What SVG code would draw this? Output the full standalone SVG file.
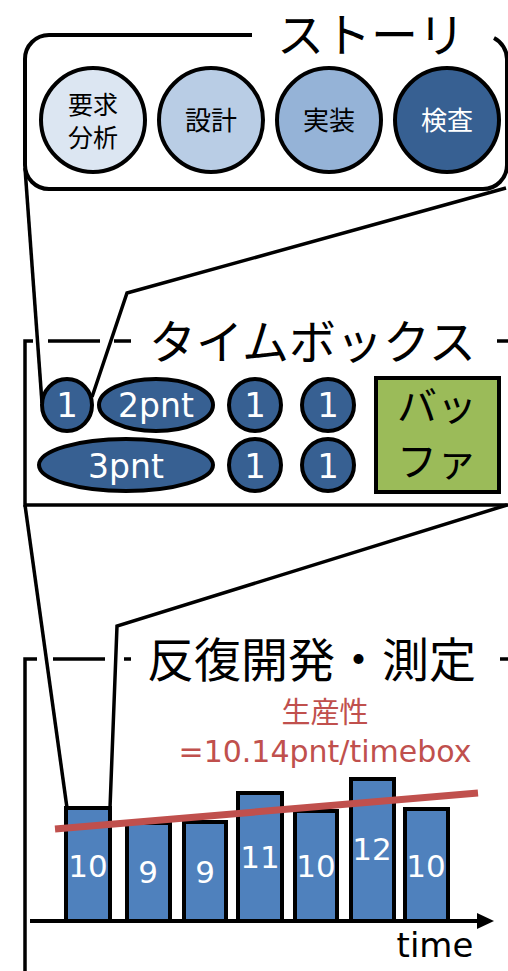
<svg xmlns="http://www.w3.org/2000/svg" width="508" height="971" viewBox="0 0 508 971">
<style>
.ln{fill:none;stroke:#000;stroke-width:3.5;stroke-linejoin:miter}
.sh{stroke:#000;stroke-width:4}
.tb{fill:#376092}
.bar{fill:#4f81bd;stroke:#000;stroke-width:4}
.jp{font-family:"Noto Sans CJK JP","DejaVu Sans",sans-serif}
.lat{font-family:"DejaVu Sans","Noto Sans CJK JP",sans-serif}
.title{font-size:47px;fill:#000}
.wt{fill:#fff;text-anchor:middle}
.bk{fill:#000;text-anchor:middle}
.red{fill:#c0504d;text-anchor:middle}
</style>
<rect width="508" height="971" fill="#fff"/>

<g id="story">
  <path d="M252,35 H49 A24,24 0 0 0 25,59 V165 A24,24 0 0 0 49,189 H483 A24,24 0 0 0 507,165 V59 A24,24 0 0 0 494,38" fill="#fff" class="sh"/>
  <text x="277" y="52" class="jp title">ストーリ</text>
</g>
<g id="req">
  <circle cx="93" cy="120" r="52" fill="#dce6f2" class="sh"/>
  <text x="93" y="114" class="jp bk" font-size="25">要求</text>
  <text x="93" y="147" class="jp bk" font-size="25">分析</text>
</g>
<g id="design">
  <circle cx="211" cy="120" r="52" fill="#b9cde5" class="sh"/>
  <text x="211" y="130" class="jp bk" font-size="26">設計</text>
</g>
<g id="impl">
  <circle cx="329" cy="120" r="52" fill="#95b3d7" class="sh"/>
  <text x="329" y="130" class="jp bk" font-size="26">実装</text>
</g>
<g id="test">
  <circle cx="447" cy="120" r="52" fill="#376092" class="sh"/>
  <text x="447" y="130" class="jp wt" font-size="26">検査</text>
</g>

<g id="timebox">
  <path class="ln" d="M33,341 H25 V505 H508"/>
  <path class="ln" d="M48,341 H100 M114,341 H131 M497,341 H508"/>
  <text x="149" y="359" class="jp title">タイムボックス</text>
</g>
<g id="tb1"><ellipse cx="67" cy="405" rx="25" ry="26" class="tb sh"/><text x="67" y="417" class="lat wt" font-size="34">1</text></g>
<g id="tb2pnt"><ellipse cx="156" cy="405" rx="57" ry="26" class="tb sh"/><text x="156" y="417" class="lat wt" font-size="33">2pnt</text></g>
<g id="tb1b"><circle cx="255" cy="405" r="26" class="tb sh"/><text x="255" y="417" class="lat wt" font-size="34">1</text></g>
<g id="tb1c"><circle cx="328" cy="405" r="26" class="tb sh"/><text x="328" y="417" class="lat wt" font-size="34">1</text></g>
<g id="tb3pnt"><ellipse cx="126" cy="465" rx="87" ry="26" class="tb sh"/><text x="126" y="478" class="lat wt" font-size="33">3pnt</text></g>
<g id="tb1d"><circle cx="255" cy="465" r="26" class="tb sh"/><text x="255" y="478" class="lat wt" font-size="34">1</text></g>
<g id="tb1e"><circle cx="328" cy="465" r="26" class="tb sh"/><text x="328" y="478" class="lat wt" font-size="34">1</text></g>
<g id="buffer">
  <rect x="376" y="378" width="123" height="114" fill="#9bbb59" class="sh"/>
  <text x="437" y="421" class="jp bk" font-size="40">バッ</text>
  <text x="437" y="476" class="jp bk" font-size="40">ファ</text>
</g>

<g id="iteration">
  <path class="ln" d="M37,659 H25 V971"/>
  <path class="ln" d="M53,659 H105 M124,659 H131 M500,659 H508"/>
  <text x="147" y="677" class="jp title">反復開発・測定</text>
</g>
<g id="bars">
  <rect x="66" y="808" width="44" height="113" class="bar"/>
  <rect x="127" y="823" width="43" height="98" class="bar"/>
  <rect x="184" y="822" width="42" height="99" class="bar"/>
  <rect x="238" y="793" width="44" height="128" class="bar"/>
  <rect x="295" y="811" width="42" height="110" class="bar"/>
  <rect x="351" y="779" width="43" height="142" class="bar"/>
  <rect x="405" y="809" width="43" height="112" class="bar"/>
  <text x="88" y="877" class="lat wt" font-size="31">10</text>
  <text x="148" y="883" class="lat wt" font-size="31">9</text>
  <text x="205" y="883" class="lat wt" font-size="31">9</text>
  <text x="260" y="868" class="lat wt" font-size="31">11</text>
  <text x="316" y="877" class="lat wt" font-size="31">10</text>
  <text x="372" y="860" class="lat wt" font-size="31">12</text>
  <text x="426" y="877" class="lat wt" font-size="31">10</text>
</g>
<g id="axis">
  <line x1="30" y1="921" x2="480" y2="921" stroke="#000" stroke-width="4"/>
  <polygon points="477,913 494,921 477,929" fill="#000"/>
  <text x="435" y="957" class="lat bk" font-size="34">time</text>
</g>
<g id="trend">
  <line x1="55" y1="829" x2="478" y2="793" stroke="#c0504d" stroke-width="7"/>
  <text x="325" y="723" class="jp red" font-size="29">生産性</text>
  <text x="325" y="762" class="lat red" font-size="30">=10.14pnt/timebox</text>
</g>

<g id="connectors">
  <polyline class="ln" points="25,168 42,403"/>
  <polyline class="ln" points="506,188 127,293 92,397"/>
  <polyline class="ln" points="25,505 67,808"/>
  <polyline class="ln" points="507,505 117,626 110,808"/>
</g>
</svg>
